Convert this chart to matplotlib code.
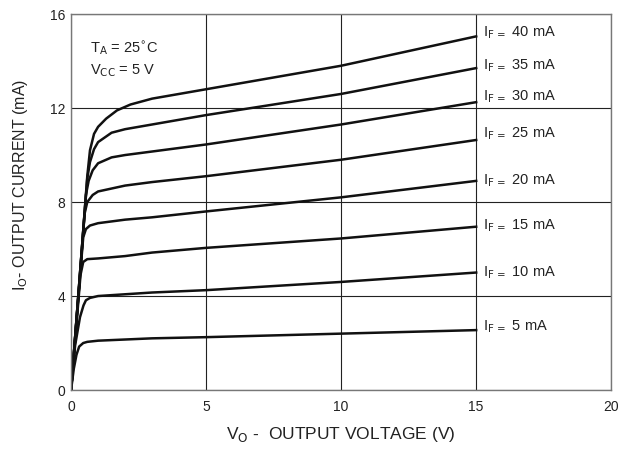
import matplotlib.pyplot as plt

plt.rcParams['font.family'] = ['Liberation Sans', 'DejaVu Sans']

# output voltage (V) / output current (mA) points
v_5 = [0, 0.1, 0.2, 0.3, 0.45, 0.6, 1.0, 3, 5, 10, 15]
i_5 = [0, 0.9, 1.5, 1.85, 2.0, 2.05, 2.1, 2.2, 2.25, 2.4, 2.55]
v_10 = [0, 0.15, 0.33, 0.46, 0.55, 0.7, 1.0, 3, 5, 10, 15]
i_10 = [0, 1.9, 3.1, 3.6, 3.82, 3.92, 4.0, 4.15, 4.25, 4.6, 5.0]
v_15 = [0, 0.2, 0.35, 0.45, 0.6, 1.0, 2, 3, 5, 10, 15]
i_15 = [0, 2.8, 4.9, 5.45, 5.57, 5.6, 5.7, 5.85, 6.05, 6.45, 6.95]
v_20 = [0, 0.25, 0.45, 0.55, 0.7, 1.0, 2, 3, 5, 10, 15]
i_20 = [0, 3.7, 6.5, 6.85, 7.0, 7.1, 7.25, 7.35, 7.6, 8.2, 8.9]
v_25 = [0, 0.3, 0.5, 0.6, 0.8, 1.0, 2, 3, 5, 10, 15]
i_25 = [0, 4.4, 7.5, 8.0, 8.3, 8.45, 8.7, 8.85, 9.1, 9.8, 10.64]
v_30 = [0, 0.3, 0.55, 0.65, 0.8, 1.0, 1.5, 2, 3, 5, 10, 15]
i_30 = [0, 4.5, 8.3, 8.9, 9.35, 9.65, 9.9, 10.0, 10.15, 10.45, 11.3, 12.25]
v_35 = [0, 0.3, 0.6, 0.7, 0.85, 1.0, 1.5, 2, 3, 5, 10, 15]
i_35 = [0, 4.5, 9.0, 9.7, 10.25, 10.55, 10.95, 11.1, 11.3, 11.7, 12.6, 13.7]
v_40 = [0, 0.3, 0.6, 0.7, 0.85, 1.0, 1.3, 1.7, 2.2, 3, 5, 10, 15]
i_40 = [0, 4.5, 9.1, 10.2, 10.9, 11.2, 11.55, 11.9, 12.15, 12.4, 12.8, 13.8, 15.05]

curves = [(v_5, i_5), (v_10, i_10), (v_15, i_15), (v_20, i_20),
          (v_25, i_25), (v_30, i_30), (v_35, i_35), (v_40, i_40)]
if_labels = ['5', '10', '15', '20', '25', '30', '35', '40']
label_y = [2.7, 5.0, 7.0, 8.9, 10.9, 12.5, 13.8, 15.2]

fig = plt.figure(figsize=(6.18, 4.53), dpi=100)
ax = fig.add_axes([0.115, 0.139, 0.874, 0.830])

for v, i in curves:
    ax.plot(v, i, color='#111111', lw=1.8, solid_joinstyle='round')

for lab, y in zip(if_labels, label_y):
    ax.text(15.25, y, r'I$_{\mathrm{F}\,=}$ ' + lab + ' mA', fontsize=10.5,
            va='center', ha='left', color='#222222')

ax.text(0.7, 14.55, r'T$_\mathrm{A}$ = 25$^{\circ}$C', fontsize=10.5, va='center', color='#222222')
ax.text(0.7, 13.6, r'V$_\mathrm{CC}$ = 5 V', fontsize=10.5, va='center', color='#222222')

ax.set_xlim(0, 20)
ax.set_ylim(0, 16)
ax.set_xticks([0, 5, 10, 15, 20])
ax.set_yticks([0, 4, 8, 12, 16])
ax.tick_params(axis='y', length=0, labelsize=10, colors='#222222', pad=4)
ax.tick_params(axis='x', length=0, labelsize=10, colors='#222222', pad=7)
ax.grid(True, color='#222222', lw=0.8)
for s in ax.spines.values():
    s.set_color('#777777')
    s.set_linewidth(1.0)

ax.set_xlabel(r'V$_\mathrm{O}$ -  OUTPUT VOLTAGE (V)', fontsize=12.5, color='#222222')
ax.set_ylabel(r'I$_\mathrm{O}$- OUTPUT CURRENT (mA)', fontsize=11.5, color='#222222')
ax.xaxis.set_label_coords(0.5, -0.094)
ax.yaxis.set_label_coords(-0.076, 0.545)

fig.savefig('out.png', dpi=100)
